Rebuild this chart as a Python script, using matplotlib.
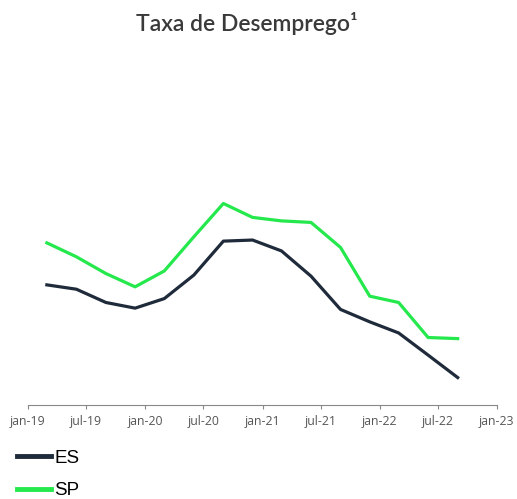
import pandas as pd
import matplotlib.pyplot as plt

# trimestral (plotado no mes final do trimestre)
datas = pd.date_range("2019-03-01", periods=15, freq="3MS")
es = [11.76, 11.56, 10.95, 10.69, 11.13, 12.21, 13.77, 13.82,
      13.32, 12.16, 10.63, 10.06, 9.55, 8.53, 7.50]
sp = [13.69, 13.05, 12.28, 11.67, 12.40, 13.97, 15.50, 14.86,
      14.70, 14.63, 13.48, 11.24, 10.95, 9.34, 9.29]
ticks = pd.date_range("2019-01-01", "2023-01-01", freq="6MS")
meses = {1: "jan", 7: "jul"}
tick_labels = [f"{meses[d.month]}-{d.strftime('%y')}" for d in ticks]

fig = plt.figure(figsize=(5.17, 4.99), dpi=100)
ax = fig.add_axes([0.054, 0.188, 0.907, 0.692])

l1, = ax.plot(datas, es, color="#1f2b3b", lw=2.3, label="ES")
l2, = ax.plot(datas, sp, color="#24e84c", lw=2.3, label="SP")

ax.set_xlim(ticks[0], ticks[-1])
ax.set_ylim(6.23, 22.1)
ax.set_xticks(ticks)
ax.set_xticklabels(tick_labels, fontsize=8.8, color="#555555", family="Open Sans")
ax.tick_params(axis="x", length=3, color="#888888", pad=4)
ax.set_yticks([])
for s in ["top", "right", "left"]:
    ax.spines[s].set_visible(False)
ax.spines["bottom"].set_color("#888888")
ax.spines["bottom"].set_linewidth(0.8)

fig.text(0.478, 0.953, "Taxa de Desemprego\u00b9", ha="center", va="center",
         fontsize=16.5, fontweight="semibold", color="#3a3a3a", family="Lato")

leg = fig.legend(handles=[l1, l2], loc="center left", bbox_to_anchor=(0.033, 0.049),
                 frameon=False, handlelength=1.8, handletextpad=0.2,
                 labelspacing=0.8, borderpad=0, borderaxespad=0,
                 prop={"family": "Liberation Sans", "size": 13.5})
for h in leg.legend_handles:
    h.set_linewidth(3.5)

fig.savefig("out.png", dpi=100)
